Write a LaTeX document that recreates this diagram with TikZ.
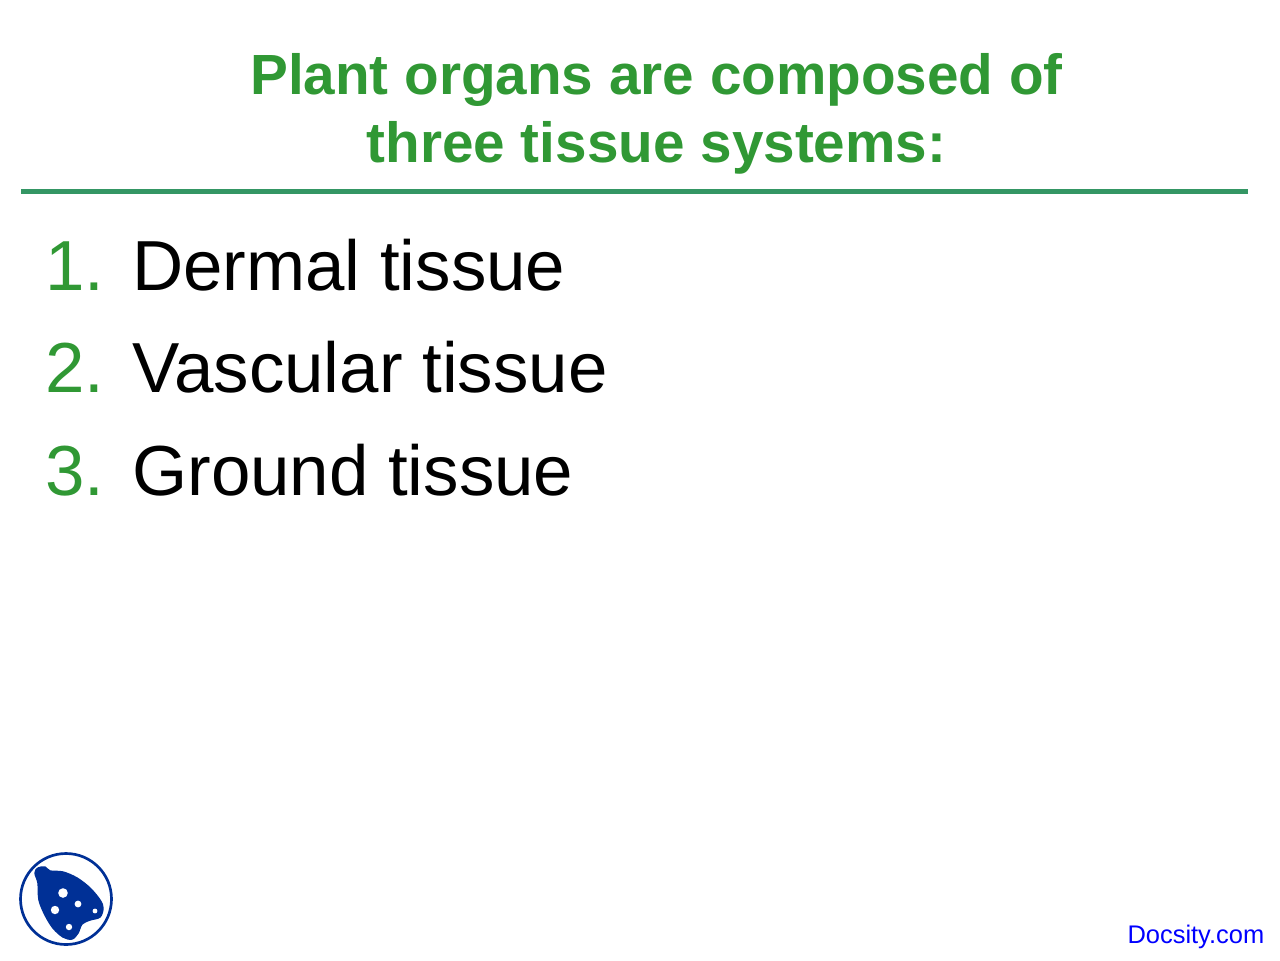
\documentclass[tikz,border=0pt]{standalone}
\usepackage{fontspec}
\setmainfont{Liberation Sans}
\usepackage{tikz}
\usetikzlibrary{positioning,calc}
\definecolor{titlegreen}{RGB}{48,152,52}
\definecolor{rulegreen}{RGB}{52,150,100}
\definecolor{logoblue}{RGB}{0,48,150}
\tikzset{
  titletext/.style={inner sep=0pt,text=titlegreen,font=\fontsize{40.3}{48.5}\selectfont\bfseries,align=center},
  numtext/.style={inner sep=0pt,anchor=base east,text=titlegreen,font=\fontsize{50.4}{60}\selectfont},
  itemtext/.style={inner sep=0pt,anchor=base west,text=black,font=\fontsize{50.4}{60}\selectfont},
  linktext/.style={inner sep=0pt,anchor=base east,text=blue,font=\fontsize{18.1}{20}\selectfont},
  hole/.style={fill=white,draw=none}
}
\begin{document}
\begin{tikzpicture}[x=0.025cm,y=0.025cm]
\useasboundingbox (0,-960) rectangle (1280,0);
% heading
\node [titletext] (title) at (656.5,-114) {Plant organs are composed of\\three tissue systems:};
\coordinate (ruleL) at (21,-191.5);
\coordinate (ruleR) at (1248,-191.5);
\draw [rulegreen,line width=3.2pt] (ruleL) -- (ruleR);
% list
\node [numtext] (num1) at (104.5,-290) {1.};
\node [itemtext] (item1) at (132,-290) {Dermal tissue};
\node [numtext] (num2) at (104.5,-392) {2.};
\node [itemtext] (item2) at (132,-392) {Vascular tissue};
\node [numtext] (num3) at (104.5,-495) {3.};
\node [itemtext] (item3) at (132,-495) {Ground tissue};
% logo
\draw [logoblue,line width=1.9pt,fill=white] (66,-899) circle (45.5);
\filldraw [logoblue,line width=1pt] plot [smooth cycle,tension=0.55] coordinates {
  (35,-873) (38,-868) (45,-867) (50,-871) (63,-872) (77,-878) (90,-888)
  (100,-900) (103,-908) (100,-917) (90,-920) (82,-924) (78,-933)
  (72,-939) (63,-937) (53,-928) (45,-915) (39,-900) (38,-883)};
\fill [hole] (63,-893) circle (4.8);
\fill [hole] (78,-904) circle (3.4);
\fill [hole] (55,-910) circle (4.2);
\fill [hole] (95,-911) circle (2.4);
\fill [hole] (69,-927) circle (3.2);
% footer
\node [linktext] (link) at (1264.5,-943) {Docsity.com};
\end{tikzpicture}
\end{document}
